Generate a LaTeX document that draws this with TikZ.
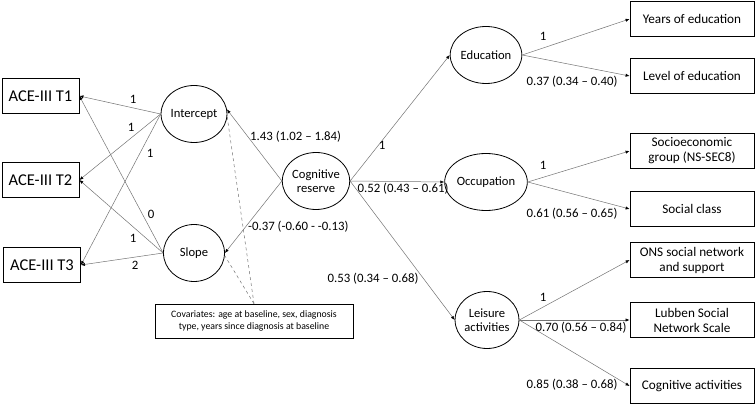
\documentclass[tikz,border=0pt]{standalone}
\usepackage{fontspec}
\setmainfont{Carlito}
\usetikzlibrary{positioning,arrows.meta,shapes.geometric}
\tikzset{
  latent/.style={draw, ellipse, line width=0.8pt, minimum width=61pt, minimum height=57pt, inner sep=0pt, align=center, font=\fontsize{12.6}{14}\selectfont},
  ace/.style={draw, line width=0.8pt, minimum width=77pt, minimum height=35pt, inner sep=0pt, font=\fontsize{16.5}{18}\selectfont},
  indicator/.style={draw, line width=0.8pt, minimum width=124pt, minimum height=35pt, inner sep=0pt, align=center, font=\fontsize{13.2}{15}\selectfont},
  path/.style={draw=black!55, line width=0.5pt, -{Latex[length=4pt,width=3.2pt,black]}},
  covpath/.style={draw=black!55, line width=0.5pt, dashed},
  weight/.style={inner sep=0pt, font=\fontsize{12.8}{14}\selectfont}
}
\begin{document}
\begin{tikzpicture}[x=1pt, y=-1pt]
  \useasboundingbox (0,0) rectangle (755,406);
  % observed ACE-III scores
  \node (t1) [ace] at (40.5,96) {ACE-III T1};
  \node (t2) [ace] at (40.5,180) {ACE-III T2};
  \node (t3) [ace] at (42,265) {ACE-III T3};

  % growth factors
  \node (int) [latent] at (194,114) {Intercept};
  \node (slo) [latent] at (194,253) {Slope};
  \node (cr) [latent] at (316,181) {Cognitive\\reserve};

  % covariates
  \node (cov) [draw, line width=0.5pt, minimum width=198pt, minimum height=34pt, inner sep=0pt, align=center, font=\fontsize{9.8}{12.5}\selectfont] at (254,321)
    {Covariates: age at baseline, sex, diagnosis\\type, years since diagnosis at baseline};

  % proxies
  \node (edu) [latent] at (486,55) {Education};
  \node (occ) [latent] at (486,182) {Occupation};
  \node (lei) [latent] at (487,320) {Leisure\\activities};

  % indicators
  \node (yrs) [indicator] at (692,19) {Years of education};
  \node (lvl) [indicator] at (692,76) {Level of education};
  \node (seg) [indicator] at (692,151) {Socioeconomic\\group (NS-SEC8)};
  \node (scl) [indicator] at (692,209) {Social class};
  \node (ons) [indicator] at (692,260) {ONS social network\\and support};
  \node (lub) [indicator] at (692,320) {Lubben Social\\Network Scale};
  \node (cga) [indicator] at (692,386) {Cognitive activities};

  % loadings of the growth factors
  \draw[path] (int.west) -- (t1.east);
  \draw[path] (int.west) -- (t2.east);
  \draw[path] (int.west) -- (t3.east);
  \draw[path] (slo.west) -- (t1.east);
  \draw[path] (slo.west) -- (t2.east);
  \draw[path] (slo.west) -- (t3.east);
  \node (w1) [weight] at (133,99) {1};
  \node (w2) [weight] at (131,127) {1};
  \node (w3) [weight] at (150,153) {1};
  \node (w4) [weight] at (151,214) {0};
  \node (w5) [weight] at (133,238) {1};
  \node (w6) [weight] at (135,265) {2};

  % cognitive reserve to growth factors
  \draw[path] (cr.west) -- (int.8);
  \draw[path] (cr.west) -- (slo.east);
  \draw[covpath] (cov.north) -- (int.-5);
  \draw[covpath] (cov.north) -- (slo.-5);
  \node (w7) [weight, anchor=west] at (250,137) {1.43 (1.02 -- 1.84)};
  \node (w8) [weight, anchor=west] at (248,227) {-0.37 (-0.60 - -0.13)};

  % cognitive reserve to proxies
  \draw[path] (cr.east) -- (edu.west);
  \draw[path] (cr.east) -- (occ.west);
  \draw[path] (cr.east) -- (lei.west);
  \node (w9) [weight] at (382,145) {1};
  \node (w10) [weight] at (403,189) {0.52 (0.43 -- 0.61)};
  \node (w11) [weight] at (373,279) {0.53 (0.34 -- 0.68)};

  % proxies to indicators
  \draw[path] (edu.east) -- (yrs.west);
  \draw[path] (edu.east) -- (lvl.west);
  \draw[path] (occ.east) -- (seg.west);
  \draw[path] (occ.east) -- (scl.west);
  \draw[path] (lei.east) -- (ons.west);
  \draw[path] (lei.east) -- (lub.west);
  \draw[path] (lei.east) -- (cga.west);
  \node (w12) [weight] at (543,36) {1};
  \node (w13) [weight] at (572,82) {0.37 (0.34 -- 0.40)};
  \node (w14) [weight] at (543,165) {1};
  \node (w15) [weight] at (572,214) {0.61 (0.56 -- 0.65)};
  \node (w16) [weight] at (543,297) {1};
  \node (w17) [weight] at (581,328) {0.70 (0.56 -- 0.84)};
  \node (w18) [weight] at (572,385) {0.85 (0.38 -- 0.68)};
\end{tikzpicture}
\end{document}
